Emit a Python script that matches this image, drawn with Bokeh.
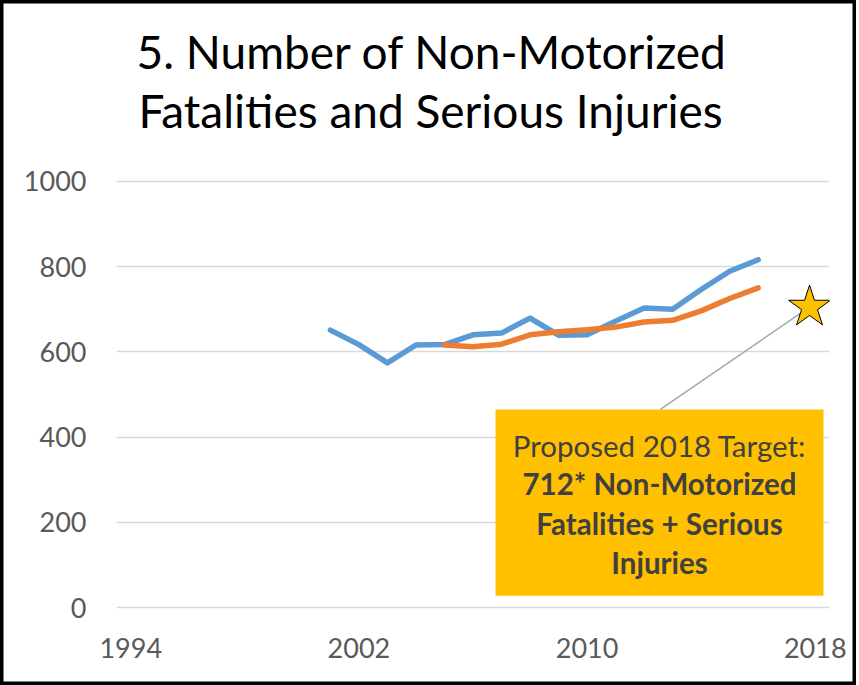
from bokeh.plotting import figure
from bokeh.models import Range1d, FixedTicker, BoxAnnotation, Label, Title
from bokeh.embed import file_html
from bokeh.resources import INLINE

# ---- data ----
years_total = [2001, 2002, 2003, 2004, 2005, 2006, 2007, 2008,
               2009, 2010, 2011, 2012, 2013, 2014, 2015, 2016]
total = [651, 617, 574, 616, 617, 640, 644, 679,
         639, 640, 672, 703, 700, 746, 789, 816]
years_avg = [2005, 2006, 2007, 2008, 2009, 2010, 2011, 2012,
             2013, 2014, 2015, 2016]
avg = [616, 612, 618, 640, 647, 652, 658, 670, 674, 696, 725, 750]
target_year = [2017.8]
target_value = [705]
x_ticks = [1994, 2002, 2010, 2018]
y_ticks = [0, 200, 400, 600, 800, 1000]
title_lines = ["5. Number of Non-Motorized", "Fatalities and Serious Injuries"]
box_lines = ["Proposed 2018 Target:", "712* Non-Motorized",
             "Fatalities + Serious", "Injuries"]

FONT = "Lato"

p = figure(width=856, height=685, output_backend="svg", toolbar_location=None,
           x_range=Range1d(1993.5, 2018.5), y_range=Range1d(-4, 1004),
           min_border_left=116, min_border_right=27,
           min_border_top=179, min_border_bottom=76, title=None)
p.background_fill_color = "white"
p.border_fill_color = None
p.outline_line_color = None
# outer chart border (drawn by the host element, behind the transparent border area)
p.styles = {"background-color": "white",
            "box-shadow": "inset 0 0 0 3.5px black"}

# titles (later added = further from frame); first one is a spacer
spacer = Title(text=" ", text_font=FONT, text_font_size="20px", standoff=15)
t2 = Title(text=title_lines[1], align="left", offset=22, text_font=FONT,
           text_font_size="46px", text_font_style="normal", text_color="black",
           standoff=2)
t1 = Title(text=title_lines[0], align="left", offset=20, text_font=FONT,
           text_font_size="46px", text_font_style="normal", text_color="black",
           standoff=2)
p.add_layout(spacer, "above")
p.add_layout(t2, "above")
p.add_layout(t1, "above")

# axes
p.xaxis.ticker = FixedTicker(ticks=x_ticks)
p.yaxis.ticker = FixedTicker(ticks=y_ticks)
for ax in (p.xaxis, p.yaxis):
    ax.axis_line_color = None
    ax.major_tick_line_color = None
    ax.minor_tick_line_color = None
    ax.major_tick_out = 0
    ax.major_tick_in = 0
    ax.major_label_text_font = FONT
    ax.major_label_text_font_size = "27px"
    ax.major_label_text_color = "#595959"
p.xaxis.major_label_standoff = 28
p.yaxis.major_label_standoff = 30

p.xgrid.grid_line_color = None
p.ygrid.grid_line_color = "#D9D9D9"
p.ygrid.grid_line_width = 1.5

# series
p.line(years_total, total, line_color="#5B9BD5", line_width=5.5,
       line_cap="round", line_join="round")
p.line(years_avg, avg, line_color="#ED7D31", line_width=5.5,
       line_cap="round", line_join="round")

# callout box
box_left, box_right, box_bottom, box_top = 2006.79, 2018.29, 28, 465
anchor_x = 2012.57
p.segment(x0=[anchor_x], y0=[box_top], x1=target_year, y1=target_value,
          line_color="#A6A6A6", line_width=1.5)
p.scatter(target_year, target_value, marker="star", size=44,
          fill_color="#FFC000", line_color="black", line_width=1)

p.add_layout(BoxAnnotation(left=box_left, right=box_right, bottom=box_bottom,
                           top=box_top, fill_color="#FFC000", fill_alpha=1,
                           line_color=None))
cx = (box_left + box_right) / 2
ys = [380, 291, 197, 106]
for i, (txt, yy) in enumerate(zip(box_lines, ys)):
    p.add_layout(Label(x=cx, y=yy, text=txt, text_align="center",
                       text_baseline="middle", text_font=FONT,
                       text_font_size="29.5px",
                       text_font_style="normal" if i == 0 else "bold",
                       text_color="#404040"))

open("out.html", "w").write(file_html(p, INLINE))
